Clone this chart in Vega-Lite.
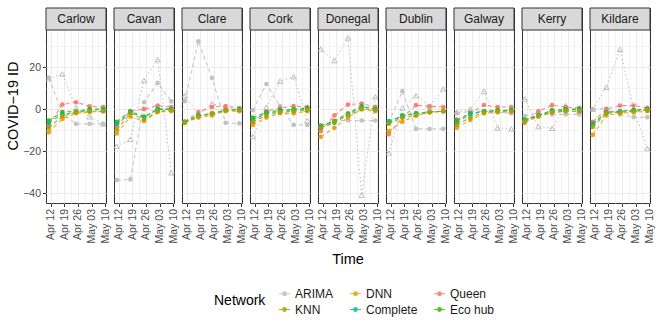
{
"$schema": "https://vega.github.io/schema/vega-lite/v6.json",
"padding": {"left": 5, "top": 7, "right": 5, "bottom": 5},
"bounds": "flush",
"data": {"values": [
{"county":"Carlow","date":"2020-04-11","model":"ARIMA","value":15},
{"county":"Carlow","date":"2020-04-18","model":"ARIMA","value":-2},
{"county":"Carlow","date":"2020-04-25","model":"ARIMA","value":-7},
{"county":"Carlow","date":"2020-05-02","model":"ARIMA","value":-7},
{"county":"Carlow","date":"2020-05-09","model":"ARIMA","value":-7},
{"county":"Carlow","date":"2020-04-11","model":"Naive","value":14.5},
{"county":"Carlow","date":"2020-04-18","model":"Naive","value":16.8},
{"county":"Carlow","date":"2020-04-25","model":"Naive","value":0.5},
{"county":"Carlow","date":"2020-05-02","model":"Naive","value":-3.6},
{"county":"Carlow","date":"2020-05-09","model":"Naive","value":-7},
{"county":"Carlow","date":"2020-04-11","model":"Queen","value":-7.6},
{"county":"Carlow","date":"2020-04-18","model":"Queen","value":2.2},
{"county":"Carlow","date":"2020-04-25","model":"Queen","value":3.3},
{"county":"Carlow","date":"2020-05-02","model":"Queen","value":1.4},
{"county":"Carlow","date":"2020-05-09","model":"Queen","value":1},
{"county":"Carlow","date":"2020-04-11","model":"Eco hub","value":-5.5},
{"county":"Carlow","date":"2020-04-18","model":"Eco hub","value":-1.4},
{"county":"Carlow","date":"2020-04-25","model":"Eco hub","value":-1},
{"county":"Carlow","date":"2020-05-02","model":"Eco hub","value":0},
{"county":"Carlow","date":"2020-05-09","model":"Eco hub","value":0},
{"county":"Carlow","date":"2020-04-11","model":"Complete","value":-6.5},
{"county":"Carlow","date":"2020-04-18","model":"Complete","value":-2.5},
{"county":"Carlow","date":"2020-04-25","model":"Complete","value":-1.5},
{"county":"Carlow","date":"2020-05-02","model":"Complete","value":-0.5},
{"county":"Carlow","date":"2020-05-09","model":"Complete","value":0},
{"county":"Carlow","date":"2020-04-11","model":"DNN","value":-11},
{"county":"Carlow","date":"2020-04-18","model":"DNN","value":-4.6},
{"county":"Carlow","date":"2020-04-25","model":"DNN","value":-2},
{"county":"Carlow","date":"2020-05-02","model":"DNN","value":-1.4},
{"county":"Carlow","date":"2020-05-09","model":"DNN","value":-1},
{"county":"Carlow","date":"2020-04-11","model":"KNN","value":-8.9},
{"county":"Carlow","date":"2020-04-18","model":"KNN","value":-3.3},
{"county":"Carlow","date":"2020-04-25","model":"KNN","value":-1.4},
{"county":"Carlow","date":"2020-05-02","model":"KNN","value":-1},
{"county":"Carlow","date":"2020-05-09","model":"KNN","value":-1},
{"county":"Cavan","date":"2020-04-11","model":"ARIMA","value":-33.8},
{"county":"Cavan","date":"2020-04-18","model":"ARIMA","value":-33.5},
{"county":"Cavan","date":"2020-04-25","model":"ARIMA","value":3.3},
{"county":"Cavan","date":"2020-05-02","model":"ARIMA","value":12.5},
{"county":"Cavan","date":"2020-05-09","model":"ARIMA","value":3.7},
{"county":"Cavan","date":"2020-04-11","model":"Naive","value":-17.6},
{"county":"Cavan","date":"2020-04-18","model":"Naive","value":-14.4},
{"county":"Cavan","date":"2020-04-25","model":"Naive","value":13.7},
{"county":"Cavan","date":"2020-05-02","model":"Naive","value":23.7},
{"county":"Cavan","date":"2020-05-09","model":"Naive","value":-30.3},
{"county":"Cavan","date":"2020-04-11","model":"Queen","value":-8},
{"county":"Cavan","date":"2020-04-18","model":"Queen","value":-1},
{"county":"Cavan","date":"2020-04-25","model":"Queen","value":0},
{"county":"Cavan","date":"2020-05-02","model":"Queen","value":1.7},
{"county":"Cavan","date":"2020-05-09","model":"Queen","value":1},
{"county":"Cavan","date":"2020-04-11","model":"Eco hub","value":-6},
{"county":"Cavan","date":"2020-04-18","model":"Eco hub","value":-1},
{"county":"Cavan","date":"2020-04-25","model":"Eco hub","value":-3.6},
{"county":"Cavan","date":"2020-05-02","model":"Eco hub","value":0},
{"county":"Cavan","date":"2020-05-09","model":"Eco hub","value":0},
{"county":"Cavan","date":"2020-04-11","model":"Complete","value":-7},
{"county":"Cavan","date":"2020-04-18","model":"Complete","value":-1.5},
{"county":"Cavan","date":"2020-04-25","model":"Complete","value":-4},
{"county":"Cavan","date":"2020-05-02","model":"Complete","value":0},
{"county":"Cavan","date":"2020-05-09","model":"Complete","value":0},
{"county":"Cavan","date":"2020-04-11","model":"DNN","value":-11.6},
{"county":"Cavan","date":"2020-04-18","model":"DNN","value":-3.6},
{"county":"Cavan","date":"2020-04-25","model":"DNN","value":-5.7},
{"county":"Cavan","date":"2020-05-02","model":"DNN","value":-1.4},
{"county":"Cavan","date":"2020-05-09","model":"DNN","value":-1},
{"county":"Cavan","date":"2020-04-11","model":"KNN","value":-9.7},
{"county":"Cavan","date":"2020-04-18","model":"KNN","value":-2},
{"county":"Cavan","date":"2020-04-25","model":"KNN","value":-5},
{"county":"Cavan","date":"2020-05-02","model":"KNN","value":-1},
{"county":"Cavan","date":"2020-05-09","model":"KNN","value":-0.5},
{"county":"Clare","date":"2020-04-11","model":"ARIMA","value":3.8},
{"county":"Clare","date":"2020-04-18","model":"ARIMA","value":32.4},
{"county":"Clare","date":"2020-04-25","model":"ARIMA","value":14.9},
{"county":"Clare","date":"2020-05-02","model":"ARIMA","value":-6.5},
{"county":"Clare","date":"2020-05-09","model":"ARIMA","value":-6.8},
{"county":"Clare","date":"2020-04-11","model":"Naive","value":6.5},
{"county":"Clare","date":"2020-04-18","model":"Naive","value":-2.5},
{"county":"Clare","date":"2020-04-25","model":"Naive","value":2.7},
{"county":"Clare","date":"2020-05-02","model":"Naive","value":0.6},
{"county":"Clare","date":"2020-05-09","model":"Naive","value":0},
{"county":"Clare","date":"2020-04-11","model":"Queen","value":-6},
{"county":"Clare","date":"2020-04-18","model":"Queen","value":-1.4},
{"county":"Clare","date":"2020-04-25","model":"Queen","value":1},
{"county":"Clare","date":"2020-05-02","model":"Queen","value":1.5},
{"county":"Clare","date":"2020-05-09","model":"Queen","value":0.5},
{"county":"Clare","date":"2020-04-11","model":"Eco hub","value":-6},
{"county":"Clare","date":"2020-04-18","model":"Eco hub","value":-3},
{"county":"Clare","date":"2020-04-25","model":"Eco hub","value":-2},
{"county":"Clare","date":"2020-05-02","model":"Eco hub","value":-0.5},
{"county":"Clare","date":"2020-05-09","model":"Eco hub","value":0},
{"county":"Clare","date":"2020-04-11","model":"Complete","value":-6},
{"county":"Clare","date":"2020-04-18","model":"Complete","value":-3},
{"county":"Clare","date":"2020-04-25","model":"Complete","value":-2.5},
{"county":"Clare","date":"2020-05-02","model":"Complete","value":-0.5},
{"county":"Clare","date":"2020-05-09","model":"Complete","value":0},
{"county":"Clare","date":"2020-04-11","model":"DNN","value":-6.5},
{"county":"Clare","date":"2020-04-18","model":"DNN","value":-4},
{"county":"Clare","date":"2020-04-25","model":"DNN","value":-3},
{"county":"Clare","date":"2020-05-02","model":"DNN","value":-1},
{"county":"Clare","date":"2020-05-09","model":"DNN","value":-1},
{"county":"Clare","date":"2020-04-11","model":"KNN","value":-6.5},
{"county":"Clare","date":"2020-04-18","model":"KNN","value":-3.5},
{"county":"Clare","date":"2020-04-25","model":"KNN","value":-2},
{"county":"Clare","date":"2020-05-02","model":"KNN","value":-0.5},
{"county":"Clare","date":"2020-05-09","model":"KNN","value":-0.5},
{"county":"Cork","date":"2020-04-11","model":"ARIMA","value":-0.5},
{"county":"Cork","date":"2020-04-18","model":"ARIMA","value":12},
{"county":"Cork","date":"2020-04-25","model":"ARIMA","value":1.5},
{"county":"Cork","date":"2020-05-02","model":"ARIMA","value":-7.5},
{"county":"Cork","date":"2020-05-09","model":"ARIMA","value":-7.5},
{"county":"Cork","date":"2020-04-11","model":"Naive","value":-13},
{"county":"Cork","date":"2020-04-18","model":"Naive","value":1},
{"county":"Cork","date":"2020-04-25","model":"Naive","value":13.3},
{"county":"Cork","date":"2020-05-02","model":"Naive","value":15.5},
{"county":"Cork","date":"2020-05-09","model":"Naive","value":-5.5},
{"county":"Cork","date":"2020-04-11","model":"Queen","value":-6.5},
{"county":"Cork","date":"2020-04-18","model":"Queen","value":-1},
{"county":"Cork","date":"2020-04-25","model":"Queen","value":0.5},
{"county":"Cork","date":"2020-05-02","model":"Queen","value":1.5},
{"county":"Cork","date":"2020-05-09","model":"Queen","value":1},
{"county":"Cork","date":"2020-04-11","model":"Eco hub","value":-4},
{"county":"Cork","date":"2020-04-18","model":"Eco hub","value":-1.5},
{"county":"Cork","date":"2020-04-25","model":"Eco hub","value":-0.5},
{"county":"Cork","date":"2020-05-02","model":"Eco hub","value":0},
{"county":"Cork","date":"2020-05-09","model":"Eco hub","value":0.5},
{"county":"Cork","date":"2020-04-11","model":"Complete","value":-5},
{"county":"Cork","date":"2020-04-18","model":"Complete","value":-2},
{"county":"Cork","date":"2020-04-25","model":"Complete","value":-1},
{"county":"Cork","date":"2020-05-02","model":"Complete","value":-0.5},
{"county":"Cork","date":"2020-05-09","model":"Complete","value":0},
{"county":"Cork","date":"2020-04-11","model":"DNN","value":-7.5},
{"county":"Cork","date":"2020-04-18","model":"DNN","value":-4},
{"county":"Cork","date":"2020-04-25","model":"DNN","value":-2},
{"county":"Cork","date":"2020-05-02","model":"DNN","value":-2},
{"county":"Cork","date":"2020-05-09","model":"DNN","value":-1},
{"county":"Cork","date":"2020-04-11","model":"KNN","value":-6},
{"county":"Cork","date":"2020-04-18","model":"KNN","value":-3},
{"county":"Cork","date":"2020-04-25","model":"KNN","value":-1.5},
{"county":"Cork","date":"2020-05-02","model":"KNN","value":-1},
{"county":"Cork","date":"2020-05-09","model":"KNN","value":-0.5},
{"county":"Donegal","date":"2020-04-11","model":"ARIMA","value":-8},
{"county":"Donegal","date":"2020-04-18","model":"ARIMA","value":-5.5},
{"county":"Donegal","date":"2020-04-25","model":"ARIMA","value":-5.4},
{"county":"Donegal","date":"2020-05-02","model":"ARIMA","value":-5.4},
{"county":"Donegal","date":"2020-05-09","model":"ARIMA","value":-5.4},
{"county":"Donegal","date":"2020-04-11","model":"Naive","value":28.7},
{"county":"Donegal","date":"2020-04-18","model":"Naive","value":23.2},
{"county":"Donegal","date":"2020-04-25","model":"Naive","value":34},
{"county":"Donegal","date":"2020-05-02","model":"Naive","value":-41},
{"county":"Donegal","date":"2020-05-09","model":"Naive","value":5.9},
{"county":"Donegal","date":"2020-04-11","model":"Queen","value":-10.5},
{"county":"Donegal","date":"2020-04-18","model":"Queen","value":-3},
{"county":"Donegal","date":"2020-04-25","model":"Queen","value":2.2},
{"county":"Donegal","date":"2020-05-02","model":"Queen","value":2.7},
{"county":"Donegal","date":"2020-05-09","model":"Queen","value":1.1},
{"county":"Donegal","date":"2020-04-11","model":"Eco hub","value":-7.8},
{"county":"Donegal","date":"2020-04-18","model":"Eco hub","value":-5.7},
{"county":"Donegal","date":"2020-04-25","model":"Eco hub","value":-2},
{"county":"Donegal","date":"2020-05-02","model":"Eco hub","value":1.4},
{"county":"Donegal","date":"2020-05-09","model":"Eco hub","value":0},
{"county":"Donegal","date":"2020-04-11","model":"Complete","value":-8.9},
{"county":"Donegal","date":"2020-04-18","model":"Complete","value":-6.5},
{"county":"Donegal","date":"2020-04-25","model":"Complete","value":-2.5},
{"county":"Donegal","date":"2020-05-02","model":"Complete","value":1},
{"county":"Donegal","date":"2020-05-09","model":"Complete","value":0},
{"county":"Donegal","date":"2020-04-11","model":"DNN","value":-13.2},
{"county":"Donegal","date":"2020-04-18","model":"DNN","value":-8.9},
{"county":"Donegal","date":"2020-04-25","model":"DNN","value":-4},
{"county":"Donegal","date":"2020-05-02","model":"DNN","value":0},
{"county":"Donegal","date":"2020-05-09","model":"DNN","value":-1},
{"county":"Donegal","date":"2020-04-11","model":"KNN","value":-9},
{"county":"Donegal","date":"2020-04-18","model":"KNN","value":-6},
{"county":"Donegal","date":"2020-04-25","model":"KNN","value":-3},
{"county":"Donegal","date":"2020-05-02","model":"KNN","value":0},
{"county":"Donegal","date":"2020-05-09","model":"KNN","value":-0.5},
{"county":"Dublin","date":"2020-04-11","model":"ARIMA","value":-6.5},
{"county":"Dublin","date":"2020-04-18","model":"ARIMA","value":8.6},
{"county":"Dublin","date":"2020-04-25","model":"ARIMA","value":-9.4},
{"county":"Dublin","date":"2020-05-02","model":"ARIMA","value":-9.4},
{"county":"Dublin","date":"2020-05-09","model":"ARIMA","value":-9.4},
{"county":"Dublin","date":"2020-04-11","model":"Naive","value":-20.8},
{"county":"Dublin","date":"2020-04-18","model":"Naive","value":0.6},
{"county":"Dublin","date":"2020-04-25","model":"Naive","value":6.5},
{"county":"Dublin","date":"2020-05-02","model":"Naive","value":1.4},
{"county":"Dublin","date":"2020-05-09","model":"Naive","value":9.7},
{"county":"Dublin","date":"2020-04-11","model":"Queen","value":-12},
{"county":"Dublin","date":"2020-04-18","model":"Queen","value":-4},
{"county":"Dublin","date":"2020-04-25","model":"Queen","value":1.9},
{"county":"Dublin","date":"2020-05-02","model":"Queen","value":1.4},
{"county":"Dublin","date":"2020-05-09","model":"Queen","value":1},
{"county":"Dublin","date":"2020-04-11","model":"Eco hub","value":-6.5},
{"county":"Dublin","date":"2020-04-18","model":"Eco hub","value":-3},
{"county":"Dublin","date":"2020-04-25","model":"Eco hub","value":-2},
{"county":"Dublin","date":"2020-05-02","model":"Eco hub","value":-1.4},
{"county":"Dublin","date":"2020-05-09","model":"Eco hub","value":-1},
{"county":"Dublin","date":"2020-04-11","model":"Complete","value":-5.7},
{"county":"Dublin","date":"2020-04-18","model":"Complete","value":-3.3},
{"county":"Dublin","date":"2020-04-25","model":"Complete","value":-2},
{"county":"Dublin","date":"2020-05-02","model":"Complete","value":-1.2},
{"county":"Dublin","date":"2020-05-09","model":"Complete","value":-1},
{"county":"Dublin","date":"2020-04-11","model":"DNN","value":-10.5},
{"county":"Dublin","date":"2020-04-18","model":"DNN","value":-6},
{"county":"Dublin","date":"2020-04-25","model":"DNN","value":-3},
{"county":"Dublin","date":"2020-05-02","model":"DNN","value":-1.4},
{"county":"Dublin","date":"2020-05-09","model":"DNN","value":-1},
{"county":"Dublin","date":"2020-04-11","model":"KNN","value":-7},
{"county":"Dublin","date":"2020-04-18","model":"KNN","value":-4},
{"county":"Dublin","date":"2020-04-25","model":"KNN","value":-3},
{"county":"Dublin","date":"2020-05-02","model":"KNN","value":-1.5},
{"county":"Dublin","date":"2020-05-09","model":"KNN","value":-1},
{"county":"Galway","date":"2020-04-11","model":"ARIMA","value":-2},
{"county":"Galway","date":"2020-04-18","model":"ARIMA","value":-1},
{"county":"Galway","date":"2020-04-25","model":"ARIMA","value":-1},
{"county":"Galway","date":"2020-05-02","model":"ARIMA","value":-1.5},
{"county":"Galway","date":"2020-05-09","model":"ARIMA","value":-2},
{"county":"Galway","date":"2020-04-11","model":"Naive","value":-1.4},
{"county":"Galway","date":"2020-04-18","model":"Naive","value":0},
{"county":"Galway","date":"2020-04-25","model":"Naive","value":8.6},
{"county":"Galway","date":"2020-05-02","model":"Naive","value":-8.9},
{"county":"Galway","date":"2020-05-09","model":"Naive","value":-9.4},
{"county":"Galway","date":"2020-04-11","model":"Queen","value":-5},
{"county":"Galway","date":"2020-04-18","model":"Queen","value":-2},
{"county":"Galway","date":"2020-04-25","model":"Queen","value":2},
{"county":"Galway","date":"2020-05-02","model":"Queen","value":1},
{"county":"Galway","date":"2020-05-09","model":"Queen","value":1},
{"county":"Galway","date":"2020-04-11","model":"Eco hub","value":-5.5},
{"county":"Galway","date":"2020-04-18","model":"Eco hub","value":-2},
{"county":"Galway","date":"2020-04-25","model":"Eco hub","value":-1},
{"county":"Galway","date":"2020-05-02","model":"Eco hub","value":-0.5},
{"county":"Galway","date":"2020-05-09","model":"Eco hub","value":-0.5},
{"county":"Galway","date":"2020-04-11","model":"Complete","value":-6.5},
{"county":"Galway","date":"2020-04-18","model":"Complete","value":-2.5},
{"county":"Galway","date":"2020-04-25","model":"Complete","value":-1},
{"county":"Galway","date":"2020-05-02","model":"Complete","value":-1},
{"county":"Galway","date":"2020-05-09","model":"Complete","value":-0.5},
{"county":"Galway","date":"2020-04-11","model":"DNN","value":-8.9},
{"county":"Galway","date":"2020-04-18","model":"DNN","value":-5.2},
{"county":"Galway","date":"2020-04-25","model":"DNN","value":-2},
{"county":"Galway","date":"2020-05-02","model":"DNN","value":-1.4},
{"county":"Galway","date":"2020-05-09","model":"DNN","value":-1.4},
{"county":"Galway","date":"2020-04-11","model":"KNN","value":-7.5},
{"county":"Galway","date":"2020-04-18","model":"KNN","value":-4},
{"county":"Galway","date":"2020-04-25","model":"KNN","value":-1.5},
{"county":"Galway","date":"2020-05-02","model":"KNN","value":-1},
{"county":"Galway","date":"2020-05-09","model":"KNN","value":-1},
{"county":"Kerry","date":"2020-04-11","model":"ARIMA","value":-3.3},
{"county":"Kerry","date":"2020-04-18","model":"ARIMA","value":-1.7},
{"county":"Kerry","date":"2020-04-25","model":"ARIMA","value":-2.5},
{"county":"Kerry","date":"2020-05-02","model":"ARIMA","value":-2.5},
{"county":"Kerry","date":"2020-05-09","model":"ARIMA","value":-2.5},
{"county":"Kerry","date":"2020-04-11","model":"Naive","value":4.9},
{"county":"Kerry","date":"2020-04-18","model":"Naive","value":-8.3},
{"county":"Kerry","date":"2020-04-25","model":"Naive","value":-9.1},
{"county":"Kerry","date":"2020-05-02","model":"Naive","value":1.7},
{"county":"Kerry","date":"2020-05-09","model":"Naive","value":-1},
{"county":"Kerry","date":"2020-04-11","model":"Queen","value":-6.5},
{"county":"Kerry","date":"2020-04-18","model":"Queen","value":-1},
{"county":"Kerry","date":"2020-04-25","model":"Queen","value":1.9},
{"county":"Kerry","date":"2020-05-02","model":"Queen","value":1},
{"county":"Kerry","date":"2020-05-09","model":"Queen","value":0.6},
{"county":"Kerry","date":"2020-04-11","model":"Eco hub","value":-5},
{"county":"Kerry","date":"2020-04-18","model":"Eco hub","value":-3},
{"county":"Kerry","date":"2020-04-25","model":"Eco hub","value":-0.5},
{"county":"Kerry","date":"2020-05-02","model":"Eco hub","value":0},
{"county":"Kerry","date":"2020-05-09","model":"Eco hub","value":0},
{"county":"Kerry","date":"2020-04-11","model":"Complete","value":-5.5},
{"county":"Kerry","date":"2020-04-18","model":"Complete","value":-3},
{"county":"Kerry","date":"2020-04-25","model":"Complete","value":-1},
{"county":"Kerry","date":"2020-05-02","model":"Complete","value":-0.5},
{"county":"Kerry","date":"2020-05-09","model":"Complete","value":0},
{"county":"Kerry","date":"2020-04-11","model":"DNN","value":-6},
{"county":"Kerry","date":"2020-04-18","model":"DNN","value":-3.5},
{"county":"Kerry","date":"2020-04-25","model":"DNN","value":-1.5},
{"county":"Kerry","date":"2020-05-02","model":"DNN","value":-1},
{"county":"Kerry","date":"2020-05-09","model":"DNN","value":-1},
{"county":"Kerry","date":"2020-04-11","model":"KNN","value":-6},
{"county":"Kerry","date":"2020-04-18","model":"KNN","value":-3.5},
{"county":"Kerry","date":"2020-04-25","model":"KNN","value":-1.5},
{"county":"Kerry","date":"2020-05-02","model":"KNN","value":-1},
{"county":"Kerry","date":"2020-05-09","model":"KNN","value":-1},
{"county":"Kildare","date":"2020-04-11","model":"ARIMA","value":0},
{"county":"Kildare","date":"2020-04-18","model":"ARIMA","value":0.3},
{"county":"Kildare","date":"2020-04-25","model":"ARIMA","value":-2.5},
{"county":"Kildare","date":"2020-05-02","model":"ARIMA","value":-3.8},
{"county":"Kildare","date":"2020-05-09","model":"ARIMA","value":-3.8},
{"county":"Kildare","date":"2020-04-11","model":"Naive","value":0},
{"county":"Kildare","date":"2020-04-18","model":"Naive","value":10.4},
{"county":"Kildare","date":"2020-04-25","model":"Naive","value":28.5},
{"county":"Kildare","date":"2020-05-02","model":"Naive","value":0},
{"county":"Kildare","date":"2020-05-09","model":"Naive","value":-18.7},
{"county":"Kildare","date":"2020-04-11","model":"Queen","value":-6},
{"county":"Kildare","date":"2020-04-18","model":"Queen","value":0},
{"county":"Kildare","date":"2020-04-25","model":"Queen","value":1.7},
{"county":"Kildare","date":"2020-05-02","model":"Queen","value":1.7},
{"county":"Kildare","date":"2020-05-09","model":"Queen","value":0.6},
{"county":"Kildare","date":"2020-04-11","model":"Eco hub","value":-6.9},
{"county":"Kildare","date":"2020-04-18","model":"Eco hub","value":-1.5},
{"county":"Kildare","date":"2020-04-25","model":"Eco hub","value":-1},
{"county":"Kildare","date":"2020-05-02","model":"Eco hub","value":-0.5},
{"county":"Kildare","date":"2020-05-09","model":"Eco hub","value":0},
{"county":"Kildare","date":"2020-04-11","model":"Complete","value":-7.5},
{"county":"Kildare","date":"2020-04-18","model":"Complete","value":-1.5},
{"county":"Kildare","date":"2020-04-25","model":"Complete","value":-1},
{"county":"Kildare","date":"2020-05-02","model":"Complete","value":-0.5},
{"county":"Kildare","date":"2020-05-09","model":"Complete","value":0},
{"county":"Kildare","date":"2020-04-11","model":"DNN","value":-12.3},
{"county":"Kildare","date":"2020-04-18","model":"DNN","value":-3},
{"county":"Kildare","date":"2020-04-25","model":"DNN","value":-2},
{"county":"Kildare","date":"2020-05-02","model":"DNN","value":-1.5},
{"county":"Kildare","date":"2020-05-09","model":"DNN","value":-1},
{"county":"Kildare","date":"2020-04-11","model":"KNN","value":-8.5},
{"county":"Kildare","date":"2020-04-18","model":"KNN","value":-2},
{"county":"Kildare","date":"2020-04-25","model":"KNN","value":-1.5},
{"county":"Kildare","date":"2020-05-02","model":"KNN","value":-1},
{"county":"Kildare","date":"2020-05-09","model":"KNN","value":-0.5}
]},
"facet": {"column": {"field": "county", "type": "nominal", "title": "Time",
  "header": {"labels": false, "titleOrient": "bottom", "titleFontSize": 14.5, "titleFontWeight": "normal", "titleColor": "#000000", "titlePadding": 0}}},
"spacing": 8,
"spec": {
  "width": 60,
  "height": 195,
  "encoding": {
    "x": {"field": "date", "type": "temporal",
          "scale": {"type": "utc", "domain": [{"year": 2020, "month": 4, "date": 9, "hours": 14, "minutes": 24, "utc": true}, {"year": 2020, "month": 5, "date": 10, "hours": 9, "minutes": 36, "utc": true}]},
          "axis": {"title": null, "grid": true, "format": "%b %d", "formatType": "utc", "labelAngle": 270, "labelAlign": "right", "labelBaseline": "middle", "labelPadding": 2,
                   "labelExpr": "utchours(datum.value) == 12 ? '' : datum.label",
                   "tickOpacity": {"condition": {"test": "utchours(datum.value) == 12", "value": 0}, "value": 1},
                   "gridWidth": {"condition": {"test": "utchours(datum.value) == 12", "value": 0.6}, "value": 1},
                   "values": [{"year":2020,"month":4,"date":12,"utc":true},{"year":2020,"month":4,"date":15,"hours":12,"utc":true},{"year":2020,"month":4,"date":19,"utc":true},{"year":2020,"month":4,"date":22,"hours":12,"utc":true},{"year":2020,"month":4,"date":26,"utc":true},{"year":2020,"month":4,"date":29,"hours":12,"utc":true},{"year":2020,"month":5,"date":3,"utc":true},{"year":2020,"month":5,"date":6,"hours":12,"utc":true},{"year":2020,"month":5,"date":10,"utc":true}]}},
    "y": {"field": "value", "type": "quantitative",
          "scale": {"domain": [-44.75, 48.25], "nice": false, "zero": false},
          "axis": {"title": "COVID−19 ID", "grid": true, "values": [-40, -30, -20, -10, 0, 10, 20, 30], "labelPadding": 2, "titlePadding": 2,
                   "labelExpr": "datum.value % 20 == 0 ? datum.label : ''",
                   "tickOpacity": {"condition": {"test": "datum.value % 20 != 0", "value": 0}, "value": 1},
                   "gridWidth": {"condition": {"test": "datum.value % 20 != 0", "value": 0.6}, "value": 1}}}
  },
  "layer": [
    {
      "transform": [{"filter": "datum.model == 'ARIMA' && utcdate(datum.date) == 11"}],
      "mark": {"type": "rect", "fill": "#D9D9D9", "stroke": "#333333", "strokeWidth": 1},
      "encoding": {
        "x": {"datum": {"year": 2020, "month": 4, "date": 9, "hours": 14, "minutes": 24, "utc": true}, "type": "temporal"},
        "x2": {"datum": {"year": 2020, "month": 5, "date": 10, "hours": 9, "minutes": 36, "utc": true}},
        "y": {"datum": 37.75, "type": "quantitative"},
        "y2": {"datum": 48.25}
      }
    },
    {
      "transform": [{"filter": "datum.model == 'ARIMA' && utcdate(datum.date) == 11"}],
      "mark": {"type": "text", "fontSize": 12, "color": "#1A1A1A", "baseline": "middle"},
      "encoding": {
        "x": {"datum": {"year": 2020, "month": 4, "date": 25, "utc": true}, "type": "temporal"},
        "y": {"datum": 43, "type": "quantitative"},
        "text": {"field": "county"}
      }
    },
    {
      "transform": [{"filter": "datum.model == 'Naive'"}],
      "mark": {"type": "line", "color": "#A6A6A6", "strokeDash": [1, 3], "strokeWidth": 1}
    },
    {
      "transform": [{"filter": "datum.model == 'Naive'"}],
      "mark": {"type": "point", "shape": "triangle-up", "filled": false, "color": "#A6A6A6", "size": 28, "strokeWidth": 1}
    },
    {
      "transform": [{"filter": "datum.model != 'Naive'"}],
      "mark": {"type": "line", "strokeDash": [4, 3], "strokeWidth": 1.1, "opacity": 0.85},
      "encoding": {
        "color": {"field": "model", "type": "nominal", "legend": {"title": "Network"},
                  "scale": {"domain": ["ARIMA", "DNN", "Queen", "KNN", "Complete", "Eco hub"], "range": ["#BEBEBE", "#E69F00", "#F8766D", "#A8A000", "#00C08D", "#39B600"]}}
      }
    },
    {
      "transform": [{"filter": "datum.model != 'Naive'"}],
      "mark": {"type": "point", "filled": true, "size": 22, "opacity": 0.9},
      "encoding": {
        "color": {"field": "model", "type": "nominal", "legend": {"title": "Network"},
                  "scale": {"domain": ["ARIMA", "DNN", "Queen", "KNN", "Complete", "Eco hub"], "range": ["#BEBEBE", "#E69F00", "#F8766D", "#A8A000", "#00C08D", "#39B600"]}}
      }
    }
  ]
},
"config": {
  "font": "Liberation Sans",
  "view": {"stroke": "#333333", "strokeWidth": 1},
  "axis": {"gridColor": "#EBEBEB", "tickColor": "#333333", "tickSize": 3.5, "labelColor": "#4D4D4D", "labelFontSize": 10.5, "titleFontSize": 14.5, "titleFontWeight": "normal", "titleColor": "#000000", "domain": false},
  "legend": {"orient": "none", "legendX": 168, "legendY": 279, "direction": "horizontal", "columns": 3, "titleOrient": "left",
             "titleFontSize": 14, "titleFontWeight": "normal", "titleColor": "#000000", "titleAnchor": "middle", "titleBaseline": "middle", "titlePadding": 12,
             "labelFontSize": 12, "labelColor": "#1A1A1A", "columnPadding": 13, "rowPadding": 3,
             "symbolType": "M-1,0H1M-0.33,0A0.33,0.33 0 1,0 0.33,0A0.33,0.33 0 1,0 -0.33,0Z", "symbolSize": 120, "symbolStrokeWidth": 1.2}
}
}
